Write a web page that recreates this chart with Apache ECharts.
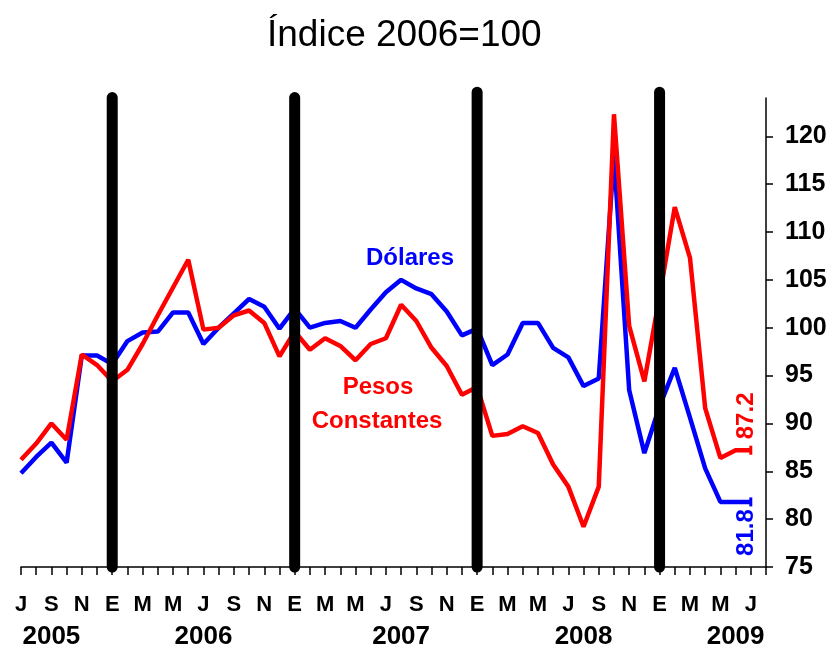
<!DOCTYPE html>
<html><head><meta charset="utf-8">
<script src="https://cdn.jsdelivr.net/npm/echarts@6/dist/echarts.min.js"></script>
<style>html,body{margin:0;padding:0;background:#fff}#c{width:831px;height:652px}</style>
</head><body><div id="c"></div>
<script>
// Monthly categories Jul 2005 .. Jul 2009 (Spanish initials)
const months = ['J','A','S','O','N','D',
  'E','F','M','A','M','J','J','A','S','O','N','D',
  'E','F','M','A','M','J','J','A','S','O','N','D',
  'E','F','M','A','M','J','J','A','S','O','N','D',
  'E','F','M','A','M','J','J'];
const dolares = [84.8,86.5,88.0,85.9,97.1,97.1,96.2,98.6,99.5,99.6,101.6,101.6,
  98.3,100.0,101.5,103.0,102.2,99.9,102.0,100.0,100.5,100.7,100.0,101.9,
  103.7,105.0,104.1,103.5,101.7,99.2,99.9,96.1,97.2,100.5,100.5,97.9,
  96.9,93.9,94.7,118.0,93.5,86.9,91.8,95.8,90.6,85.3,81.8,81.8,81.8];
const pesosConstantes = [86.2,87.9,90.0,88.3,97.2,96.1,94.4,95.6,98.3,101.3,104.2,107.1,
  99.8,100.0,101.3,101.8,100.5,97.0,99.6,97.7,98.9,98.1,96.6,98.3,
  98.9,102.4,100.7,97.9,96.0,93.0,93.8,88.7,88.9,89.7,89.0,85.7,
  83.4,79.2,83.4,122.3,100.2,94.4,103.3,112.6,107.3,91.6,86.4,87.2,87.2];
const yTicks = [75,80,85,90,95,100,105,110,115,120];
const yearNames = ['2005','2006','2007','2008','2009'];
const yearLabelIdx = [2,12,25,37,47];
const januaryIdx = [6,18,30,42];
const januaryTop = [124.05,124.05,124.6,124.6];

const FONT = '"Liberation Sans", Arial, sans-serif';
const cats = months.concat(['']);
const yearCats = cats.map((m,i)=>{ const k = yearLabelIdx.indexOf(i); return k>=0 ? yearNames[k] : ''; });

function withEndMark(arr, color){
  return arr.map((v,i)=> i===arr.length-1
    ? {value:v, symbol:'rect', symbolSize:[3,9], itemStyle:{color:color}}
    : {value:v, symbol:'none'});
}

const chart = echarts.init(document.getElementById('c'), null, {renderer:'canvas'});
const series = [
  {type:'line', name:'Dólares', data:withEndMark(dolares,'#0000FF'), showSymbol:true, symbol:'none',
   lineStyle:{color:'#0000FF', width:4.5}, itemStyle:{color:'#0000FF'}, z:2},
  {type:'line', name:'Pesos Constantes', data:withEndMark(pesosConstantes,'#FF0000'), showSymbol:true, symbol:'none',
   lineStyle:{color:'#FF0000', width:4.5}, itemStyle:{color:'#FF0000'}, z:3}
];
januaryIdx.forEach((ix,k)=>{
  series.push({type:'line', data:[[ix,75],[ix,januaryTop[k]]], symbol:'none', clip:false, silent:true,
    lineStyle:{color:'#000', width:11, cap:'round'}, z:5});
});
const option = {
  animation:false,
  backgroundColor:'#fff',
  title:{text:'Índice 2006=100', left:262, top:12,
    textStyle:{fontFamily:FONT, fontSize:37, fontWeight:'normal', color:'#000'}},
  grid:{left:21, right:65, top:98, bottom:85, containLabel:false},
  xAxis:[
    {type:'category', data:cats, boundaryGap:false, position:'bottom',
     axisLine:{lineStyle:{color:'#000', width:1.5}},
     axisTick:{show:true, interval:0, length:8, lineStyle:{color:'#000', width:1.5}},
     axisLabel:{interval:(i)=> i%2===0 && i<months.length, margin:27, color:'#000',
       fontFamily:FONT, fontSize:22, fontWeight:'bold'},
     splitLine:{show:false}},
    {type:'category', data:yearCats, boundaryGap:false, position:'bottom', gridIndex:0,
     axisLine:{show:false}, axisTick:{show:false},
     axisLabel:{interval:0, margin:57, color:'#000', fontFamily:FONT, fontSize:26, fontWeight:'bold'},
     splitLine:{show:false}}
  ],
  yAxis:{type:'value', position:'right', min:75, max:124, interval:5,
    axisLine:{show:true, lineStyle:{color:'#000', width:1.5}},
    axisTick:{show:true, length:7, customValues:yTicks, lineStyle:{color:'#000', width:1.5}},
    axisLabel:{customValues:yTicks, margin:19, color:'#000', fontFamily:FONT, fontSize:25, fontWeight:'bold'},
    splitLine:{show:false}},
  series:series
};
chart.setOption(option);
const last = dolares.length-1;
const pR = chart.convertToPixel({xAxisIndex:0, yAxisIndex:0}, [last, pesosConstantes[last]]);
const pB = chart.convertToPixel({xAxisIndex:0, yAxisIndex:0}, [last, dolares[last]]);
chart.setOption({graphic:[
  {type:'text', x:410, y:258, style:{text:'Dólares', fill:'#0000FF', font:'bold 24px '+FONT, textAlign:'center', textVerticalAlign:'middle'}, z:10},
  {type:'text', x:378, y:387, style:{text:'Pesos', fill:'#FF0000', font:'bold 24px '+FONT, textAlign:'center', textVerticalAlign:'middle'}, z:10},
  {type:'text', x:377, y:421, style:{text:'Constantes', fill:'#FF0000', font:'bold 24px '+FONT, textAlign:'center', textVerticalAlign:'middle'}, z:10},
  {type:'text', x:pR[0]-4, y:pR[1]-11, rotation:Math.PI/2, style:{text:String(pesosConstantes[last]), fill:'#FF0000', font:'bold 24px '+FONT, textAlign:'left', textVerticalAlign:'middle'}, z:10},
  {type:'text', x:pB[0]-4, y:pB[1]+54, rotation:Math.PI/2, style:{text:String(dolares[last]), fill:'#0000FF', font:'bold 24px '+FONT, textAlign:'left', textVerticalAlign:'middle'}, z:10}
]});
</script>
</body></html>
